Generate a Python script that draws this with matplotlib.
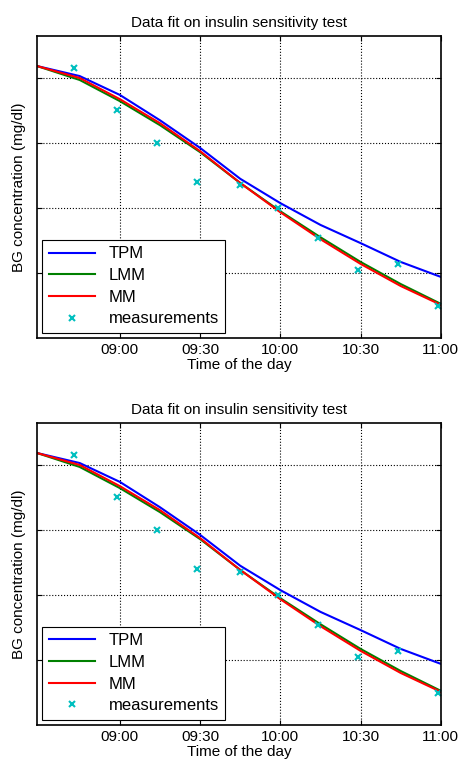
import matplotlib
matplotlib.use("Agg")
import matplotlib.pyplot as plt
import numpy as np

plt.rcParams['font.family'] = ['Liberation Sans', 'DejaVu Sans']

# minutes after 08:00
START = 29
curve_t = [29, 45, 60, 75, 90, 105, 120, 135, 150, 165, 180]
tpm = [183.7, 180.6, 174.8, 167.0, 158.5, 149.0, 141.5, 134.8, 129.2, 123.4, 118.8]
lmm = [183.7, 179.4, 172.9, 165.5, 157.2, 147.7, 139.0, 131.0, 123.4, 116.6, 110.5]
mm = [183.7, 180.0, 173.5, 166.1, 157.5, 147.7, 138.7, 130.4, 122.8, 116.0, 110.2]

meas_t = [43, 59, 74, 89, 105, 119, 134, 149, 164, 179]
meas = [183.1, 170.2, 160.0, 148.0, 147.1, 140.0, 130.8, 120.9, 122.8, 109.8]

xticks = [60, 90, 120, 150, 180]
xticklabels = ["09:00", "09:30", "10:00", "10:30", "11:00"]
yticks = [120, 140, 160, 180]

fig = plt.figure(figsize=(4.67, 7.71), dpi=100)
for bottom in (0.5616, 0.0597):
    ax = fig.add_axes([0.079, bottom, 0.865, 0.392])
    ax.plot(curve_t, tpm, color="#0000ff", lw=1.5, label="TPM")
    ax.plot(curve_t, lmm, color="#008000", lw=1.5, label="LMM")
    ax.plot(curve_t, mm, color="#ff0000", lw=1.5, label="MM")
    ax.plot(meas_t, meas, "x", color="#00bfbf", ms=4, mew=1.5, ls="none", label="measurements")
    ax.set_xlim(START, 180)
    ax.set_ylim(100, 193)
    ax.set_xticks(xticks)
    ax.set_xticklabels(xticklabels, fontsize=11)
    ax.set_yticks(yticks)
    ax.set_yticklabels([])
    ax.grid(True, color="black", ls=":", lw=0.8)
    ax.tick_params(direction="in", top=True, right=True)
    for s in ax.spines.values():
        s.set_linewidth(1.2)
    ax.set_xlabel("Time of the day", fontsize=11, labelpad=1)
    ax.set_ylabel("BG concentration (mg/dl)", fontsize=11)
    ax.set_title("Data fit on insulin sensitivity test", fontsize=11)
    leg = ax.legend(loc="lower left", fontsize=12, fancybox=False, framealpha=1,
                    edgecolor="black", handlelength=2.8, borderaxespad=0.3,
                    numpoints=1, labelspacing=0.4)
    leg.get_frame().set_linewidth(0.8)

fig.savefig("out.png", dpi=100)
